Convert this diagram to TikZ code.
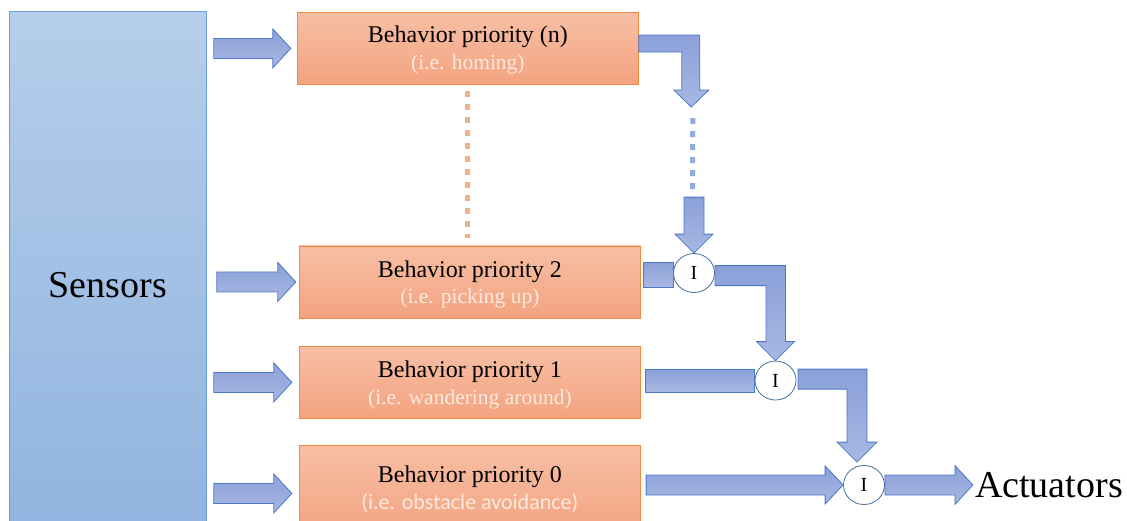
\documentclass[tikz,border=0pt]{standalone}
\usepackage{fontspec}
\setmainfont{Liberation Serif}
\newfontfamily\calibri{Carlito}
\usepackage{tikz}
\usetikzlibrary{calc,positioning,shapes.geometric}
\definecolor{senstop}{HTML}{B5CEEA}
\definecolor{sensbot}{HTML}{8EB2DF}
\definecolor{sensline}{HTML}{6A9FD8}
\definecolor{boxtop}{HTML}{F7BFA5}
\definecolor{boxbot}{HTML}{F3A37F}
\definecolor{boxline}{HTML}{F0883E}
\definecolor{boxdot}{HTML}{F4B183}
\definecolor{flowtop}{HTML}{8AA0D8}
\definecolor{flowbot}{HTML}{A9B8E3}
\definecolor{flowline}{HTML}{4C76C6}
\definecolor{flowdot}{HTML}{8FAADC}
\definecolor{gateline}{HTML}{41719C}
\definecolor{subtext}{HTML}{FDE9DF}

% block arrow to the right: #1 tail (middle of shaft), #2 length
\newcommand{\rarrow}[2]{\path[flow] (#1) ++(0,-10) -- ++({#2-18},0) -- ++(0,-9.5) -- ++(18,19.5) -- ++(-18,19.5) -- ++(0,-9.5) -- ++({18-#2},0) -- cycle;}

\begin{document}
\begin{tikzpicture}[x=1pt,y=-1pt,
  flow/.style={draw=flowline, line width=0.8pt, top color=flowtop, bottom color=flowbot},
  sensbox/.style={draw=sensline, line width=0.8pt, top color=senstop, bottom color=sensbot, inner sep=0, anchor=north west, font=\fontsize{38}{40}\selectfont},
  behbox/.style={draw=boxline, line width=0.8pt, top color=boxtop, bottom color=boxbot, minimum width=341, minimum height=72, inner sep=0, anchor=north west},
  behtitle/.style={inner sep=0, font=\fontsize{24}{26}\selectfont},
  behsub/.style={inner sep=0, text=subtext, font=\fontsize{21.5}{24}\selectfont},
  gate/.style={ellipse, draw=gateline, line width=0.8pt, fill=white, minimum width=41, minimum height=39, inner sep=0, font=\fontsize{20}{20}\selectfont},
  dotline/.style={line width=5pt, dash pattern=on 6pt off 7pt}]
\useasboundingbox (0,0) rectangle (1127,520);

\node[sensbox, minimum width=197, minimum height=548] (S) at (9,11) {Sensors};

\node[behbox] (Bn) at (297,12) {};
\node[behtitle] (Bnt) at ($(Bn.north)+(0,25)$) {Behavior priority (n)};
\node[behsub] (Bns) at ($(Bn.north)+(0,52)$) {(i.e. homing)};
\node[behbox] (B2) at (299,245.5) {};
\node[behtitle] (B2t) at ($(B2.north)+(0,26)$) {Behavior priority 2};
\node[behsub] (B2s) at ($(B2.north)+(0,53)$) {(i.e. picking up)};
\node[behbox] (B1) at (299,346) {};
\node[behtitle] (B1t) at ($(B1.north)+(0,26)$) {Behavior priority 1};
\node[behsub] (B1s) at ($(B1.north)+(0,53)$) {(i.e. wandering around)};
\node[behbox, minimum height=90] (B0) at (299,445) {};
\node[behtitle] (B0t) at ($(B0.north)+(0,32)$) {Behavior priority 0};
\node[behsub, font=\calibri\fontsize{22}{24}\selectfont] (B0s) at ($(B0.north)+(0,58)$) {(i.e. obstacle avoidance)};

\rarrow{$(S.east |- Bn.west)+(7,0)$}{77}
\rarrow{$(S.east |- B2.west)+(10,0)$}{79}
\rarrow{$(S.east |- B1.west)+(7,0)$}{78}
\rarrow{$(S.east |- B0.west)+(7,3)$}{78}

\draw[dotline, draw=boxdot] ($(Bn.south)+(0,6)$) -- ($(Bn.south |- B2.north)+(0,-8)$);

\node[gate] (G2) at (694,273) {I};
\node[gate] (G1) at (775.5,380.5) {I};
\node[gate] (G0) at (864,485) {I};
\node[anchor=west, inner sep=0, font=\fontsize{38}{40}\selectfont] (Act) at ($(G0.east)+(90,0)$) {Actuators};

\path[flow] ($(Bn.north east)+(0,23)$) -- ++(61,0) -- ++(0,55) -- ++(9,0) -- ++(-17.5,17) coordinate (a1) -- ++(-17.5,-17) -- ++(8,0) -- ++(0,-38) -- ++(-43,0) -- cycle;
\draw[dotline, draw=flowdot] ($(a1)+(1.5,11)$) -- ($(G2.north)+(-1.5,-64)$);
\path[flow] (G2.north) -- ++(-19,-19) -- ++(9,0) -- ++(0,-37) -- ++(20,0) -- ++(0,37) -- ++(9,0) -- cycle;
\path[flow] ($(G2.west)+(-30,-11)$) rectangle ++(30,25);

\path[flow] (G1.north) -- ++(-19,-19) -- ++(9.5,0) -- ++(0,-56) -- ++(-51,0) -- ++(0,-20) -- ++(70.5,0) -- ++(0,76) -- ++(9,0) -- cycle;
\path[flow] ($(G1.west)+(0,-11.5)$) rectangle ++(-109,23);

\path[flow] ($(G0.north)+(-7,-3)$) -- ++(-20,-20) -- ++(10,0) -- ++(0,-53) -- ++(-49,0) -- ++(0,-20) -- ++(69,0) -- ++(0,73) -- ++(10,0) -- cycle;
\path[flow] (G0.west) -- ++(-18,-19) -- ++(0,9) -- ++(-179,0) -- ++(0,20) -- ++(179,0) -- ++(0,9) -- cycle;
\rarrow{G0.east}{88}
\end{tikzpicture}
\end{document}
